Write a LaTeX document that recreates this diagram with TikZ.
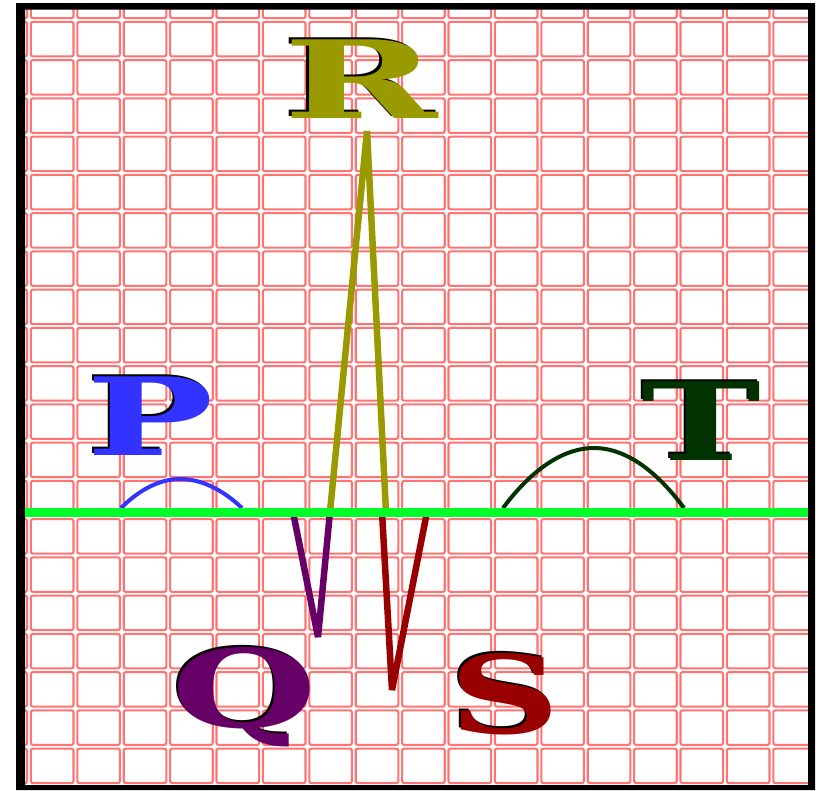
\documentclass[tikz,border=0pt]{standalone}
\usepackage{fontspec}
\usepackage{graphicx}
\usepackage{xcolor}
\usepackage{tikz}

\newfontfamily\labelfont{DejaVu Serif}

\definecolor{gridred}{RGB}{255,115,115}
\definecolor{isoline}{RGB}{0,255,40}
\definecolor{pblue}{RGB}{51,51,255}
\definecolor{rolive}{RGB}{153,153,0}
\definecolor{qpurple}{RGB}{102,0,102}
\definecolor{sred}{RGB}{153,0,0}
\definecolor{tgreen}{RGB}{0,51,0}

% letter with a thin black shadow up and to the left
\newcommand{\shadowletter}[2]{\makebox[0pt][l]{\hspace*{-1.5pt}\raisebox{1.2pt}{\color{black}#2}}{\color{#1}#2}}

\begin{document}
\begin{tikzpicture}[
    x=1pt, y=-1pt,
    cell/.style={draw=gridred, line width=2.1pt, rounded corners=2pt},
    hump/.style={line width=4pt},
    spike/.style={line width=6.5pt, line join=bevel},
    letter/.style={inner sep=0pt, anchor=base, font=\fontsize{108}{108}\selectfont\labelfont\bfseries}
]
\useasboundingbox (0,0) rectangle (819,790);
\fill[white] (0,0) rectangle (819,790);

% ECG paper
\begin{scope}
\clip (25,9.5) rectangle (808,785);
\foreach \i in {-1,...,17}
  \foreach \j in {-1,...,19}
    \draw[cell] ({29+46.4*\i+1.9},{20+38.25*\j+1.9}) rectangle ({29+46.4*(\i+1)-1.9},{20+38.25*(\j+1)-1.9});
\end{scope}

% frame
\fill[black, even odd rule] (16,3) rectangle (815,790) (25,9.5) rectangle (808,785);

% waves
\draw[hump, pblue] (121,508) parabola bend (180,479) (242,508);
\draw[hump, tgreen] (503,508) parabola bend (594,448) (684,508);
\draw[spike, qpurple] (293,512) -- (318,637) -- (330,512);
\draw[spike, rolive] (330,512) -- (367,131) -- (386,512);
\draw[spike, sred] (382,512) -- (392,690) -- (427,512);

% isoelectric line
\draw[line width=8.5pt, isoline] (25,512.5) -- (808,512.5);

% labels
\node[letter] (labelP) at (150.5,455) {\scalebox{1.57}[1]{\shadowletter{pblue}{P}}};
\node[letter] (labelQ) at (244.5,727) {\scalebox{1.55}[1]{\shadowletter{qpurple}{Q}}};
\node[letter] (labelR) at (360.5,118) {\scalebox{1.72}[1]{\shadowletter{rolive}{R}}};
\node[letter] (labelS) at (505,733) {\scalebox{1.42}[1]{\shadowletter{sred}{S}}};
\node[letter] (labelT) at (701.5,460) {\scalebox{1.49}[1]{\shadowletter{tgreen}{T}}};

\end{tikzpicture}
\end{document}
